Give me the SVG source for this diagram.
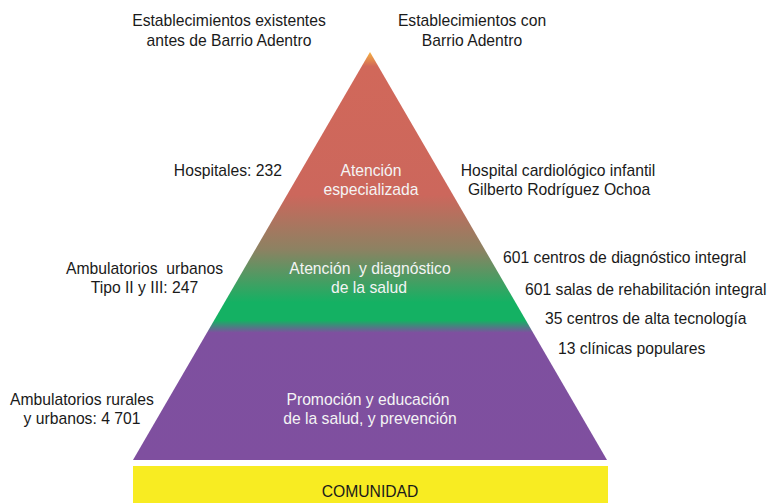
<svg xmlns="http://www.w3.org/2000/svg" width="775" height="503" viewBox="0 0 775 503">
<style>
text{font-family:"Liberation Sans",Arial,sans-serif;font-size:15.7px;}
.lab{fill:#1a1a1a;}
.in{fill:#f4f4f4;}
.c{text-anchor:middle;}
.e{text-anchor:end;}
.pre{white-space:pre;}
</style>
<defs>
<linearGradient id="pg" gradientUnits="userSpaceOnUse" x1="0" y1="52" x2="0" y2="460">
<stop offset="0" stop-color="#F6B040"/>
<stop offset="0.035" stop-color="#D1685A"/>
<stop offset="0.35" stop-color="#CC675C"/>
<stop offset="0.485" stop-color="#8C8262"/>
<stop offset="0.614" stop-color="#14B163"/>
<stop offset="0.658" stop-color="#14B163"/>
<stop offset="0.688" stop-color="#7E509F"/>
<stop offset="1" stop-color="#7F4F9F"/>
</linearGradient>
</defs>
<g id="pyramid">
<polygon points="370,52 607,460 133,460" fill="url(#pg)"/>
</g>
<g id="tier-especializada">
<text class="in c" x="371" y="176">Atención</text>
<text class="in c" x="371" y="195">especializada</text>
</g>
<g id="tier-diagnostico">
<text class="in c pre" x="370" y="274">Atención  y diagnóstico</text>
<text class="in c" x="369" y="293">de la salud</text>
</g>
<g id="tier-promocion">
<text class="in c" x="368" y="405">Promoción y educación</text>
<text class="in c" x="370" y="424">de la salud, y prevención</text>
</g>
<g id="comunidad">
<rect x="133" y="466" width="475" height="37" fill="#F8EC22"/>
<text class="lab c" x="370" y="497">COMUNIDAD</text>
</g>
<g id="head-left">
<text class="lab c" x="229" y="26">Establecimientos existentes</text>
<text class="lab c" x="229" y="46">antes de Barrio Adentro</text>
</g>
<g id="head-right">
<text class="lab c" x="472" y="26">Establecimientos con</text>
<text class="lab c" x="472" y="46">Barrio Adentro</text>
</g>
<g id="left-hospitales">
<text class="lab e" x="282" y="176">Hospitales: 232</text>
</g>
<g id="left-urbanos">
<text class="lab c pre" x="144.5" y="274">Ambulatorios  urbanos</text>
<text class="lab c" x="144.5" y="293">Tipo II y III: 247</text>
</g>
<g id="left-rurales">
<text class="lab c" x="82" y="405">Ambulatorios rurales</text>
<text class="lab c" x="82" y="424">y urbanos: 4 701</text>
</g>
<g id="right-hospital">
<text class="lab c" x="558" y="176">Hospital cardiológico infantil</text>
<text class="lab c" x="559" y="195">Gilberto Rodríguez Ochoa</text>
</g>
<g id="right-list">
<text class="lab" x="503" y="263">601 centros de diagnóstico integral</text>
<text class="lab" x="525" y="295">601 salas de rehabilitación integral</text>
<text class="lab" x="545" y="324">35 centros de alta tecnología</text>
<text class="lab" x="558" y="354">13 clínicas populares</text>
</g>
</svg>
